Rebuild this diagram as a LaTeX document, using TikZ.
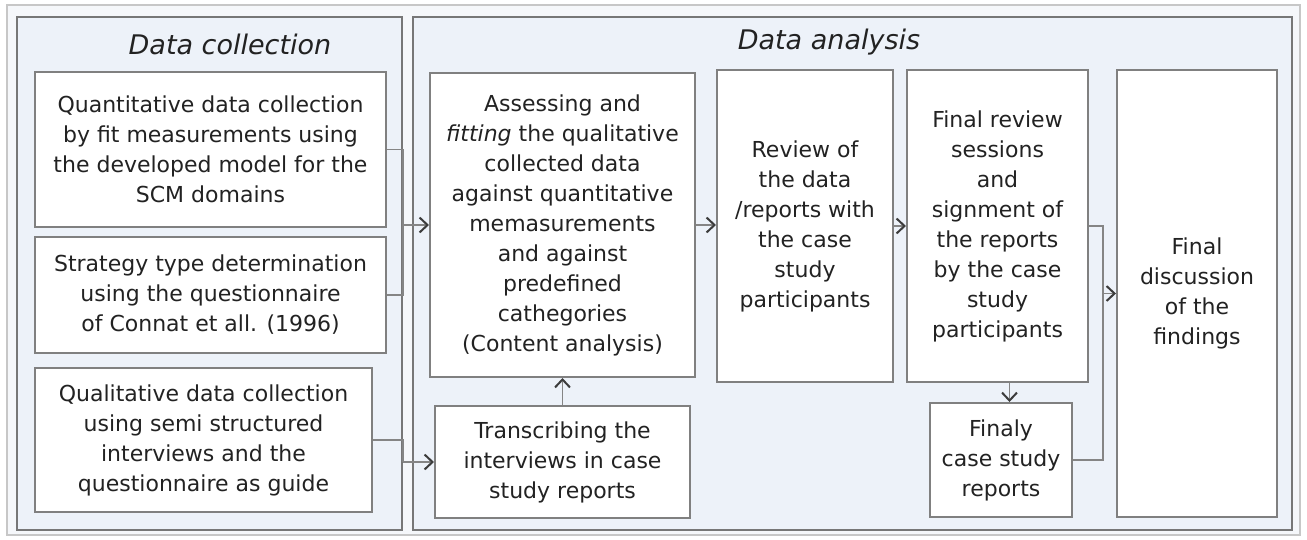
\documentclass[tikz,border=0pt]{standalone}
\usepackage{fontspec}
\setmainfont{DejaVu Sans}
\usetikzlibrary{arrows.meta}
\definecolor{panelfill}{HTML}{EDF2F9}
\definecolor{outerfill}{HTML}{F5F7FA}
\definecolor{boxline}{HTML}{808080}
\definecolor{panelline}{HTML}{777777}
\definecolor{txt}{HTML}{222222}
\definecolor{connline}{HTML}{858585}
\definecolor{headcol}{HTML}{3C3C3C}
\tikzset{
  panel/.style={draw=panelline, line width=2pt, fill=panelfill},
  box/.style={draw=boxline, line width=2pt, fill=white, align=center, inner sep=0pt,
    text=txt, font=\fontsize{22}{30}\selectfont},
  ttl/.style={text=txt, font=\fontsize{27}{32}\selectfont\itshape, inner sep=0pt},
  conn/.style={draw=connline, line width=1.6pt},
  arr/.style={draw=connline, line width=1.6pt, -{Straight Barb[length=8pt,width=15pt,line width=2pt,color=headcol]}}
}
\begin{document}
\begin{tikzpicture}[x=1pt,y=-1pt]
\useasboundingbox (0,0) rectangle (1307,539);
\fill[white] (0,0) rectangle (1307,539);
\draw[draw=black!22, line width=1.2pt, fill=outerfill] (7,5) rectangle (1300,535);
% panels
\draw[panel] (17,17) rectangle (402,530);
\draw[panel] (413,17) rectangle (1292,530);
\node[ttl] (dc) at (230,44) {Data collection};
\node[ttl] (da) at (829,42) {Data analysis};
% boxes
\node[box, minimum width=351pt, minimum height=155pt] (b1) at (210.5,149.5)
  {Quantitative data collection\\by fit measurements using\\the developed model for the\\SCM domains};
\node[box, minimum width=351pt, minimum height=116pt] (b2) at (210.5,295)
  {Strategy type determination\\using the questionnaire\\of Connat et all. (1996)};
\node[box, minimum width=337pt, minimum height=144pt] (b3) at (203.5,440)
  {Qualitative data collection\\using semi structured\\interviews and the\\questionnaire as guide};
\node[box, minimum width=265pt, minimum height=304pt] (assess) at (562.5,225)
  {Assessing and\\\textit{fitting} the qualitative\\collected data\\against quantitative\\memasurements\\and against\\predefined\\cathegories\\(Content analysis)};
\node[box, minimum width=255pt, minimum height=112pt] (trans) at (562.5,462)
  {Transcribing the\\interviews in case\\study reports};
\node[box, minimum width=176pt, minimum height=312pt] (review) at (805,226)
  {Review of\\the data\\/reports with\\the case\\study\\participants};
\node[box, minimum width=181pt, minimum height=312pt] (finrev) at (997.5,226)
  {Final review\\sessions\\and\\signment of\\the reports\\by the case\\study\\participants};
\node[box, minimum width=142pt, minimum height=114pt] (finaly) at (1001,460)
  {Finaly\\case study\\reports};
\node[box, minimum width=160pt, minimum height=447pt] (final) at (1197,293.5)
  {Final\\discussion\\of the\\findings};
% junctions
\coordinate (j1) at (403,225);
\coordinate (j2) at (403,462);
\coordinate (j3) at (1103,293.5);
% connectors
\draw[conn] (b1.east) -| (j1);
\draw[conn] (b2.east) -| (j1);
\draw[arr] (j1) -- (assess.west);
\draw[conn] (b3.east) -| (j2);
\draw[arr] (j2) -- (trans.west);
\draw[arr] (trans.north) -- (assess.south);
\draw[arr] (assess.east) -- (review.west |- assess.east);
\draw[arr] (review.east) -- (finrev.west);
\draw[arr] ([xshift=12pt]finrev.south) -- ([xshift=12pt]finrev.south |- finaly.north);
\draw[conn] (finrev.east) -| (j3);
\draw[conn] (finaly.east) -| (j3);
\draw[arr] (j3) -- (final.west);
\end{tikzpicture}
\end{document}
